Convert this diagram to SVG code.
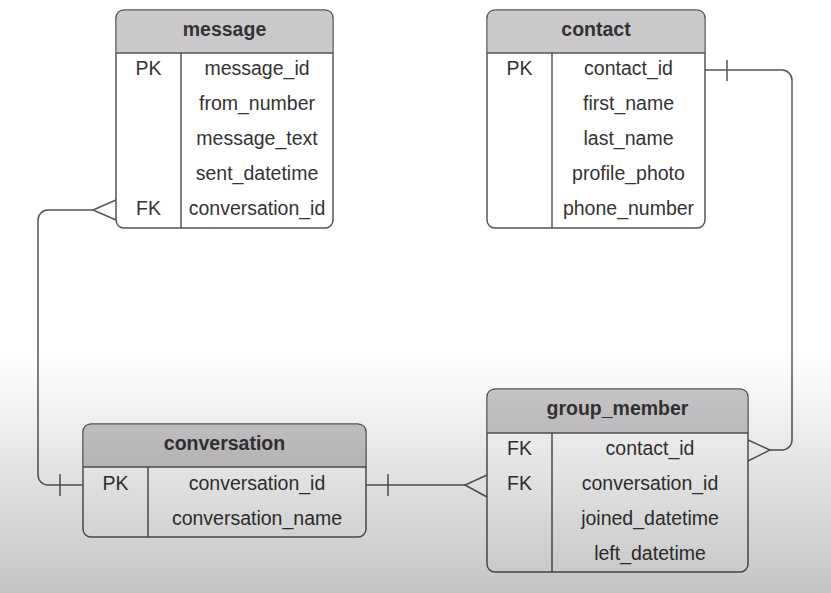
<svg xmlns="http://www.w3.org/2000/svg" width="831" height="593" viewBox="0 0 831 593">
<defs>
<linearGradient id="shade" x1="0" y1="0" x2="0" y2="1">
<stop offset="0" stop-color="#000" stop-opacity="0"/>
<stop offset="1" stop-color="#000" stop-opacity="0.23"/>
</linearGradient>
</defs>
<style>
.box{fill:#fff;stroke:#555;stroke-width:1.5}
.hdr{fill:#cbc9cb}
.ln{fill:none;stroke:#555;stroke-width:1.5}
.t{font-family:"Liberation Sans",Arial,sans-serif;font-size:19.5px;fill:#333;text-anchor:middle}
.h{font-weight:bold}
</style>
<rect width="831" height="593" fill="#fff"/>
<g id="message">
<rect class="box" x="116" y="10" width="217" height="218" rx="8"/>
<path class="hdr" d="M124,10.75 H325 A7.25,7.25 0 0 1 332.25,18 V53 H116.75 V18 A7.25,7.25 0 0 1 124,10.75 Z"/>
<path class="ln" d="M116,53 H333 M181,53 V228"/>
<text class="t h" x="224.5" y="36">message</text>
<text class="t" x="148.5" y="75">PK</text>
<text class="t" x="257" y="75">message_id</text>
<text class="t" x="257" y="110">from_number</text>
<text class="t" x="257" y="145">message_text</text>
<text class="t" x="257" y="180">sent_datetime</text>
<text class="t" x="148.5" y="215">FK</text>
<text class="t" x="257" y="215">conversation_id</text>
</g>
<g id="contact">
<rect class="box" x="487" y="10" width="218" height="218" rx="8"/>
<path class="hdr" d="M495,10.75 H697 A7.25,7.25 0 0 1 704.25,18 V53 H487.75 V18 A7.25,7.25 0 0 1 495,10.75 Z"/>
<path class="ln" d="M487,53 H705 M552,53 V228"/>
<text class="t h" x="596" y="36">contact</text>
<text class="t" x="519.5" y="75">PK</text>
<text class="t" x="628.5" y="75">contact_id</text>
<text class="t" x="628.5" y="110">first_name</text>
<text class="t" x="628.5" y="145">last_name</text>
<text class="t" x="628.5" y="180">profile_photo</text>
<text class="t" x="628.5" y="215">phone_number</text>
</g>
<g id="conversation">
<rect class="box" x="83" y="424" width="283" height="113" rx="8"/>
<path class="hdr" d="M91,424.75 H358 A7.25,7.25 0 0 1 365.25,432 V467 H83.75 V432 A7.25,7.25 0 0 1 91,424.75 Z"/>
<path class="ln" d="M83,467 H366 M148,467 V537"/>
<text class="t h" x="224.5" y="450">conversation</text>
<text class="t" x="115.5" y="490">PK</text>
<text class="t" x="257" y="490">conversation_id</text>
<text class="t" x="257" y="525">conversation_name</text>
</g>
<g id="group_member">
<rect class="box" x="487" y="389" width="261" height="183" rx="8"/>
<path class="hdr" d="M495,389.75 H740 A7.25,7.25 0 0 1 747.25,397 V433 H487.75 V397 A7.25,7.25 0 0 1 495,389.75 Z"/>
<path class="ln" d="M487,433 H748 M552,433 V572"/>
<text class="t h" x="617.5" y="415">group_member</text>
<text class="t" x="519.5" y="455">FK</text>
<text class="t" x="650" y="455">contact_id</text>
<text class="t" x="519.5" y="490">FK</text>
<text class="t" x="650" y="490">conversation_id</text>
<text class="t" x="650" y="525">joined_datetime</text>
<text class="t" x="650" y="560">left_datetime</text>
</g>
<g id="connectors">
<path class="ln" d="M93,210 H48 A10,10 0 0 0 38,220 V475 A10,10 0 0 0 48,485 H83"/>
<path class="ln" d="M116,200 L93,210 L116,220"/>
<path class="ln" d="M60,474 V496"/>
<path class="ln" d="M705,70 H782 A10,10 0 0 1 792,80 V440 A10,10 0 0 1 782,450 H770"/>
<path class="ln" d="M727,60 V81"/>
<path class="ln" d="M748,440 L770,450 L748,461"/>
<path class="ln" d="M366,485 H465"/>
<path class="ln" d="M388,474 V496"/>
<path class="ln" d="M487,475 L465,485 L487,497"/>
</g>
<rect x="0" y="355" width="831" height="238" fill="url(#shade)" pointer-events="none"/>
</svg>
